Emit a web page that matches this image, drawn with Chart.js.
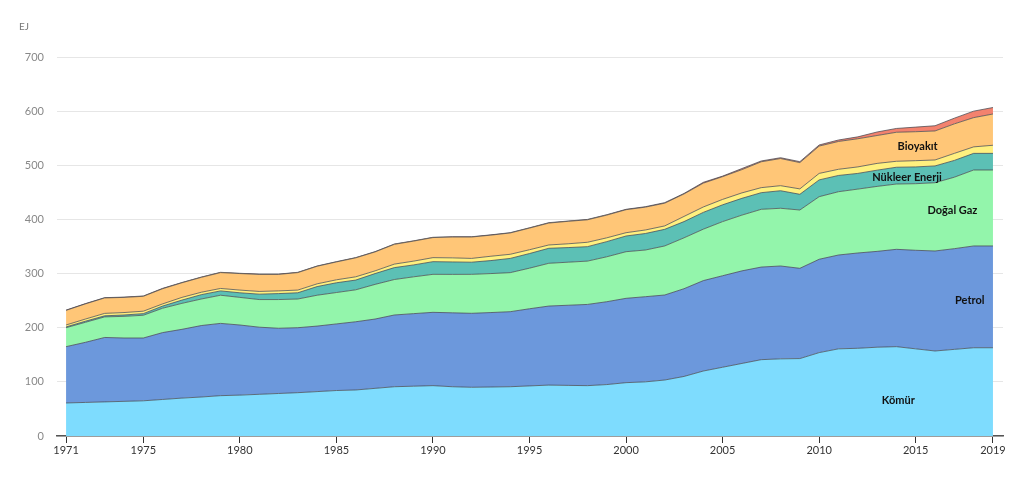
<!DOCTYPE html>
<html>
<head>
<meta charset="utf-8">
<script src="https://cdn.jsdelivr.net/npm/chart.js@4"></script>
<style>
  html, body { margin: 0; padding: 0; background: #fff; }
  #wrap { width: 1024px; height: 481px; }
</style>
</head>
<body>
<div id="wrap"><canvas id="myChart"></canvas></div>
<script>
const years = [];
for (let y = 1971; y <= 2019; y++) years.push(y);

const xTickYears = [1971, 1975, 1980, 1985, 1990, 1995, 2000, 2005, 2010, 2015, 2019];

// EJ per year
const komur = [61, 62, 63, 64, 65, 67.5, 70, 72, 74.5, 75.5, 77, 78.5, 80, 82, 84, 85, 88, 91, 92, 93,
  91, 90, 90.5, 91, 92.5, 94, 93.5, 93, 95, 98.5, 100, 103.4, 110, 120, 127, 134, 141, 142.5, 143, 154,
  161, 162, 164, 165, 161, 157, 160, 163, 163];
const petrol = [104, 111, 119, 117, 116, 123.5, 127, 132, 133.5, 129.5, 124, 120.5, 120, 121, 123, 126, 128, 132.5, 134, 135.4,
  136.5, 136.6, 137.5, 138.6, 142.5, 146, 148, 150, 153, 155.8, 157.3, 157, 162, 167, 169, 171, 171, 171.5, 166.7, 172.4,
  173.3, 176, 177, 179.8, 182, 184.7, 186, 188, 188];
const dogalGaz = [35, 37, 38, 40, 42, 45, 48, 49, 52, 51, 51, 53, 53, 57, 58, 59, 64, 65.5, 68, 70.2,
  71, 72, 72, 72.1, 75, 79, 79.5, 80, 83, 86.1, 86.2, 90.6, 94, 95, 100, 103, 106.7, 106.6, 107.7, 115.6,
  116.9, 118, 120, 120.6, 123, 126.1, 132, 140.3, 140.3];
const nukleer = [1.5, 2, 2, 2.5, 3, 4, 6, 8, 8, 8.5, 10, 11, 11.5, 16, 18, 18, 20, 22, 22, 23.4,
  23, 22.4, 24, 26.3, 27, 27.7, 27, 26.7, 28, 29, 30.5, 30.7, 30, 31, 31, 31, 30.7, 32.4, 29, 31,
  30, 29, 30, 31, 31, 31, 31, 30.7, 30.7];
const hidro = [3.5, 4, 4.5, 4.5, 4.5, 4, 5, 4.5, 4.5, 5, 5, 5, 5, 5, 5.5, 6, 5, 6.5, 7, 7.4,
  7.5, 7, 8, 7.6, 7, 6.1, 7, 8.1, 7, 6.1, 6.5, 6.3, 9.5, 10, 10, 10, 9.3, 9.3, 10, 12,
  11.4, 12, 12.5, 11, 11.5, 11, 13, 12, 15];
const bioyakit = [27, 28, 28.5, 28, 27.5, 28, 27, 27.5, 29.3, 30.5, 31.5, 30.5, 32.3, 32.5, 33, 35, 35, 36.5, 37, 37.1,
  38.5, 39.5, 39, 39.4, 40, 40.5, 41.5, 41.5, 42, 42.5, 42.2, 42, 41.5, 44, 42, 43, 47.8, 50.2, 48.6, 50.5,
  51.4, 52, 51.5, 53.6, 53.5, 53.6, 54.5, 54, 57.7];
const diger = [0.5, 0.5, 0.5, 0.5, 0.6, 0.7, 0.5, 0.5, 0.5, 0.5, 0.5, 0.5, 0.5, 0.5, 0.5, 0.5, 0.5, 0.6, 0.5, 0.5,
  0.5, 0.5, 0.5, 0.5, 0.6, 0.7, 0.5, 0.7, 0.7, 0.7, 0.8, 1, 1, 1.5, 1, 2, 1.5, 1.5, 1.7, 2,
  2.7, 3.5, 6.5, 7, 8.5, 9.6, 10.5, 12, 12];

// in-chart labels: [text, year, EJ]
const areaLabels = [
  ['Kömür', 2014.1, 66],
  ['Petrol', 2017.8, 251],
  ['Doğal Gaz', 2016.9, 417],
  ['Nükleer Enerji', 2014.55, 478],
  ['Bioyakıt', 2015.1, 534],
];

const lineColor = 'rgba(70, 72, 80, 0.75)';

const series = [
  ['Kömür', komur, '#7edcfe'],
  ['Petrol', petrol, '#6c98dc'],
  ['Doğal Gaz', dogalGaz, '#93f5ab'],
  ['Nükleer Enerji', nukleer, '#5cc0b5'],
  ['Hidroelektrik', hidro, '#fff07f'],
  ['Bioyakıt', bioyakit, '#ffc677'],
  ['Diğer', diger, '#f3826e'],
];

const datasets = series.map(([label, values, color], i) => ({
  label,
  data: values.map((v, j) => ({ x: years[j], y: v })),
  backgroundColor: color,
  borderColor: lineColor,
  borderWidth: 1,
  pointRadius: 0,
  tension: 0,
  fill: i === 0 ? 'origin' : '-1',
}));

const textPlugin = {
  id: 'textPlugin',
  afterDatasetsDraw(chart) {
    const { ctx, scales } = chart;
    ctx.save();
    ctx.font = '10px Lato, "Open Sans", sans-serif';
    ctx.fillStyle = '#777';
    ctx.textAlign = 'left';
    ctx.textBaseline = 'middle';
    ctx.fillText('EJ', 19, 27);
    ctx.font = 'bold 11px Lato, "Open Sans", sans-serif';
    ctx.fillStyle = '#111';
    ctx.textAlign = 'center';
    areaLabels.forEach(([text, yr, val]) => {
      ctx.fillText(text, scales.x.getPixelForValue(yr), scales.y.getPixelForValue(val));
    });
    ctx.restore();
  },
};

Chart.defaults.font.family = 'Lato, "Open Sans", sans-serif';

const ctx = document.getElementById('myChart').getContext('2d');
new Chart(ctx, {
  type: 'line',
  data: { datasets },
  plugins: [textPlugin],
  options: {
    responsive: true,
    maintainAspectRatio: false,
    animation: false,
    layout: {
      padding: { top: 57, right: 21, left: 0, bottom: 0 },
    },
    plugins: {
      legend: { display: false },
      tooltip: { enabled: false },
    },
    scales: {
      x: {
        type: 'linear',
        min: 1970.53,
        max: 2019.52,
        afterBuildTicks(axis) {
          axis.ticks = xTickYears.map((v) => ({ value: v }));
        },
        afterFit(axis) {
          axis.height = 45;
        },
        ticks: {
          color: '#333',
          font: { size: 11 },
          padding: 1,
          maxRotation: 0,
          autoSkip: false,
          callback: (v) => String(v),
        },
        grid: {
          display: true,
          drawOnChartArea: false,
          drawTicks: true,
          tickLength: 7,
          color: '#333',
          lineWidth: 1,
        },
        border: { display: true, color: '#555', width: 1.5 },
      },
      y: {
        stacked: true,
        min: 0,
        max: 700,
        afterFit(axis) {
          axis.width = 57;
        },
        ticks: {
          stepSize: 100,
          color: '#888',
          font: { size: 11 },
          padding: 13,
        },
        grid: {
          color: '#e6e6e6',
          lineWidth: 1,
          drawTicks: false,
        },
        border: { display: false },
      },
    },
  },
});
</script>
</body>
</html>
